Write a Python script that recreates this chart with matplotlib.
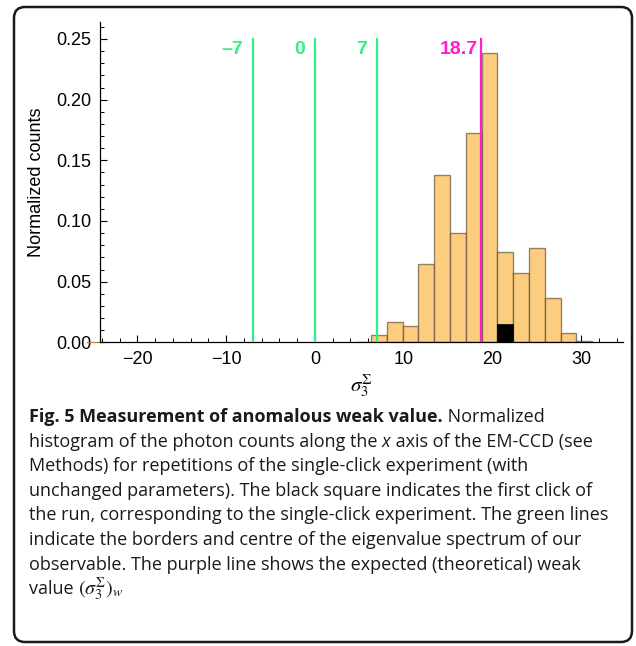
import numpy as np
import matplotlib
matplotlib.use('Agg')
import matplotlib.pyplot as plt
from matplotlib.patches import FancyBboxPatch
from matplotlib.transforms import IdentityTransform
from matplotlib.ticker import MultipleLocator, FormatStrFormatter

# ---- data ----
bin_edges = [4.53, 6.31, 8.09, 9.87, 11.65, 13.43, 15.21, 16.99, 18.77,
             20.55, 22.33, 24.11, 25.89, 27.67, 29.45, 31.23]
counts = [0.0005, 0.006, 0.0165, 0.0134, 0.0644, 0.138, 0.0898, 0.1724,
          0.2385, 0.0745, 0.0573, 0.0778, 0.0368, 0.0074, 0.0008]
first_click_bin = 9          # index of the bin holding the first click
first_click_height = 0.0151
spectrum_lines = [-7, 0, 7]
weak_value = 18.7

caption = [
    [("Fig. 5 Measurement of anomalous weak value.", 'bold'), (" Normalized", 'normal')],
    [("histogram of the photon counts along the ", 'normal'), ("x", 'italic'),
     (" axis of the EM-CCD (see", 'normal')],
    [("Methods) for repetitions of the single-click experiment (with", 'normal')],
    [("unchanged parameters). The black square indicates the first click of", 'normal')],
    [("the run, corresponding to the single-click experiment. The green lines", 'normal')],
    [("indicate the borders and centre of the eigenvalue spectrum of our", 'normal')],
    [("observable. The purple line shows the expected (theoretical) weak", 'normal')],
    [("value ", 'normal'), (r"$(\sigma_3^{\Sigma})_w$", 'math')],
]

GREEN = '#2ef285'
MAGENTA = '#ff1fc8'
BAR = '#fccd7f'

W, H = 636, 646
fig = plt.figure(figsize=(W / 100, H / 100), dpi=100)
plt.rcParams['font.family'] = ['Liberation Sans', 'DejaVu Sans']

ax = fig.add_axes([100 / W, 1 - 342.3 / H, 523 / W, (342.3 - 22) / H])
ax.set_xlim(-24.2, 34.7)
ax.set_ylim(0, 0.264)

lefts = np.array(bin_edges[:-1])
widths = np.diff(bin_edges)
ax.bar(lefts, counts, width=widths, align='edge', color=BAR,
       edgecolor=(0.3, 0.24, 0.16, 0.6), lw=1.0, zorder=2)
ax.bar(lefts[first_click_bin], first_click_height, width=widths[first_click_bin],
       align='edge', color='black', edgecolor='black', lw=0.5, zorder=3)

for v in spectrum_lines:
    ax.plot([v, v], [0, 0.25], color=GREEN, lw=1.6, zorder=4)
    lab = '\u2013' + str(abs(v)) if v < 0 else str(v)
    ax.text(v - 1.1, 0.2415, lab, color=GREEN, fontsize=14, fontweight='bold',
            ha='right', va='center')
ax.plot([weak_value, weak_value], [0, 0.25], color=MAGENTA, lw=1.6, zorder=4)
ax.text(weak_value - 0.3, 0.2415, str(weak_value), color=MAGENTA, fontsize=14,
        fontweight='bold', ha='right', va='center')

# Mathematica-like axes
for s in ['top', 'right']:
    ax.spines[s].set_visible(False)
ax.spines['left'].set_linewidth(0.9)
ax.spines['bottom'].set_linewidth(0.9)
ax.plot([-0.025, 0], [0, 0], transform=ax.transAxes, color='#b08040',
        lw=0.9, clip_on=False)
ax.xaxis.set_major_locator(MultipleLocator(10))
ax.xaxis.set_minor_locator(MultipleLocator(2))
ax.yaxis.set_major_locator(MultipleLocator(0.05))
ax.yaxis.set_minor_locator(MultipleLocator(0.01))
ax.yaxis.set_major_formatter(FormatStrFormatter('%.2f'))
ax.xaxis.set_major_formatter(plt.FuncFormatter(
    lambda v, p: ('\u2212' + '%d' % abs(v)) if v < 0 else '%d' % v))
ax.tick_params(which='major', direction='in', length=5, width=0.8,
               labelsize=13, pad=6)
ax.tick_params(which='minor', direction='in', length=3, width=0.7)
ax.set_ylabel('Normalized counts', fontsize=13, labelpad=8)
ax.set_xlabel(r'$\sigma_3^{\Sigma}$', fontsize=15, math_fontfamily='stix',
              labelpad=3)

# border
fig.patches.append(FancyBboxPatch((14, 4), 618, 635,
                                  boxstyle='round,pad=0,rounding_size=11',
                                  transform=IdentityTransform(), fill=False,
                                  ec='#1a1a1a', lw=1.8))

# caption
renderer = fig.canvas.get_renderer()
cap_font = 'Open Sans'
y0 = H - 417
for i, line in enumerate(caption):
    x = 29
    y = y0 - i * 24.6
    for txt, style in line:
        kw = dict(fontsize=13.0, family=cap_font, va='center', ha='left',
                  color='#1a1a1a', transform=IdentityTransform())
        if style == 'bold':
            kw['fontweight'] = 'bold'
        elif style == 'italic':
            kw['fontstyle'] = 'italic'
        elif style == 'math':
            kw['math_fontfamily'] = 'stix'
            kw['fontsize'] = 14.5
        t = fig.text(x, y, txt, **kw)
        x = t.get_window_extent(renderer).x1

fig.savefig('out.png', dpi=100)
